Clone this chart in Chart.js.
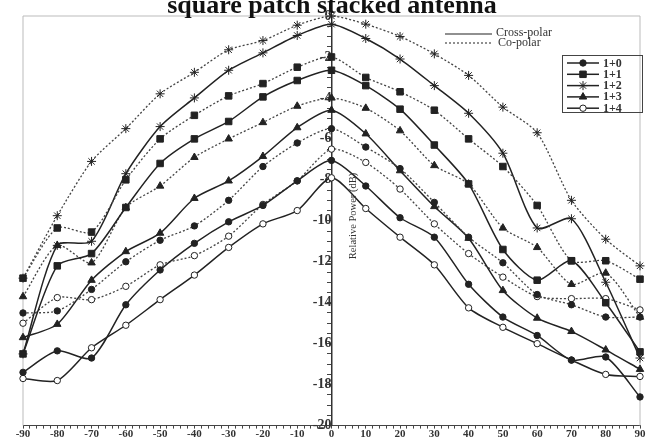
<!DOCTYPE html>
<html lang="en">
<head>
<meta charset="UTF-8">
<title>square patch stacked antenna</title>
<style>
  html, body { margin: 0; padding: 0; background: #fff; }
  #wrap { width: 661px; height: 441px; }
</style>
</head>
<body>
<div id="wrap"><canvas id="chart"></canvas></div>

<script src="https://cdn.jsdelivr.net/npm/chart.js@4/dist/chart.umd.min.js"></script>
<script>
  // angles (deg)
  const angles = [-90, -80, -70, -60, -50, -40, -30, -20, -10, 0, 10, 20, 30, 40, 50, 60, 70, 80, 90]
  const names = ['1+0', '1+1', '1+2', '1+3', '1+4']

  // relative power (dB), solid = cross-polar, dotted = co-polar
  const cross10 = [-17.4, -16.35, -16.7, -14.1, -12.4, -11.1, -10.05, -9.25, -8.05, -7.05, -8.3, -9.85, -10.8, -13.1, -14.7, -15.6, -16.8, -16.65, -18.6]
  const co10 = [-14.5, -14.4, -13.35, -12.0, -10.95, -10.25, -9.0, -7.35, -6.2, -5.5, -6.4, -7.45, -9.1, -10.8, -12.05, -13.6, -14.1, -14.7, -14.7]
  const cross11 = [-16.5, -12.2, -11.6, -9.35, -7.2, -6.0, -5.15, -3.95, -3.15, -2.65, -3.4, -4.55, -6.3, -8.2, -11.4, -12.9, -11.95, -14.0, -16.4]
  const co11 = [-12.8, -10.35, -10.55, -8.0, -6.0, -4.85, -3.9, -3.3, -2.5, -2.0, -3.0, -3.7, -4.6, -6.0, -7.35, -9.25, -11.95, -11.95, -12.85]
  const cross12 = [-16.5, -11.2, -11.0, -7.7, -5.4, -4.0, -2.65, -1.8, -0.95, -0.4, -1.1, -2.1, -3.4, -4.75, -6.7, -10.35, -9.9, -13.0, -16.7]
  const co12 = [-12.8, -9.75, -7.1, -5.5, -3.8, -2.75, -1.65, -1.2, -0.45, 0, -0.4, -1.0, -1.85, -2.9, -4.45, -5.7, -9.0, -10.9, -12.2]
  const cross13 = [-15.7, -15.05, -12.9, -11.5, -10.6, -8.9, -8.05, -6.85, -5.45, -4.6, -5.75, -7.55, -9.3, -10.85, -13.4, -14.75, -15.4, -16.3, -17.25]
  const co13 = [-13.7, -11.2, -12.05, -9.35, -8.3, -6.9, -6.0, -5.2, -4.4, -4.0, -4.5, -5.6, -7.3, -8.2, -10.35, -11.3, -13.1, -12.55, -14.7]
  const cross14 = [-17.7, -17.8, -16.2, -15.1, -13.85, -12.65, -11.3, -10.15, -9.5, -7.9, -9.4, -10.8, -12.15, -14.25, -15.2, -16.0, -16.8, -17.5, -17.6]
  const co14 = [-15.0, -13.75, -13.85, -13.2, -12.15, -11.7, -10.75, -9.2, -8.05, -6.5, -7.15, -8.45, -10.15, -11.6, -12.75, -13.7, -13.8, -13.8, -14.35]

  const crossSeries = [cross10, cross11, cross12, cross13, cross14]
  const coSeries = [co10, co11, co12, co13, co14]

  const ink = '#222'
  // marker per configuration
  const markers = [
    { pointStyle: 'circle', radius: 3.2, fill: ink },
    { pointStyle: 'rect', radius: 4.6, fill: ink },
    { pointStyle: 'star', radius: 4.5, fill: ink },
    { pointStyle: 'triangle', radius: 4.3, fill: ink },
    { pointStyle: 'circle', radius: 3.2, fill: '#fff' },
  ]

  const datasets = []
  names.forEach((name, i) => {
    const m = markers[i]
    const base = {
      pointStyle: m.pointStyle,
      pointRadius: m.radius,
      pointBackgroundColor: m.fill,
      pointBorderColor: ink,
      pointBorderWidth: 1,
      borderColor: ink,
      tension: 0.25,
      clip: false,
    }
    datasets.push(Object.assign({}, base, {
      label: name + ' cross',
      data: angles.map((a, k) => ({ x: a, y: crossSeries[i][k] })),
      borderWidth: 1.5,
    }))
    datasets.push(Object.assign({}, base, {
      label: name + ' co',
      data: angles.map((a, k) => ({ x: a, y: coSeries[i][k] })),
      borderWidth: 1.3,
      borderColor: '#444',
      borderDash: [2, 2],
    }))
  })

  function marker(ctx, i, x, y) {
    const m = markers[i]
    ctx.fillStyle = m.fill
    ctx.strokeStyle = ink
    ctx.lineWidth = 1
    ctx.setLineDash([])
    Chart.helpers.drawPoint(ctx, { pointStyle: m.pointStyle, radius: m.radius, borderWidth: 1, rotation: 0 }, x, y)
  }

  const decor = {
    id: 'decor',
    beforeDatasetsDraw(chart) {
      const { ctx, chartArea: ca } = chart
      ctx.save()
      ctx.strokeStyle = '#bbb'
      ctx.lineWidth = 1
      ctx.beginPath()
      ctx.moveTo(ca.left, ca.bottom)
      ctx.lineTo(ca.left, ca.top)
      ctx.lineTo(ca.right, ca.top)
      ctx.lineTo(ca.right, ca.bottom)
      ctx.stroke()
      ctx.restore()
    },
    afterDraw(chart) {
      const { ctx } = chart
      ctx.save()
      // title (cut at the top as in the scan)
      ctx.fillStyle = '#111'
      ctx.font = 'bold 26px "Liberation Serif"'
      ctx.textAlign = 'center'
      ctx.textBaseline = 'alphabetic'
      ctx.fillText('square patch stacked antenna', 332, 13)

      // axis title
      ctx.save()
      ctx.translate(353, 216)
      ctx.rotate(-Math.PI / 2)
      ctx.font = '10.5px "Liberation Serif"'
      ctx.fillStyle = '#333'
      ctx.textAlign = 'center'
      ctx.textBaseline = 'middle'
      ctx.fillText('Relative Power (dB)', 0, 0)
      ctx.restore()

      // polarisation legend
      ctx.strokeStyle = ink
      ctx.lineWidth = 1.2
      ctx.beginPath(); ctx.moveTo(445, 34); ctx.lineTo(492, 34); ctx.stroke()
      ctx.setLineDash([2, 2])
      ctx.beginPath(); ctx.moveTo(445, 43); ctx.lineTo(492, 43); ctx.stroke()
      ctx.setLineDash([])
      ctx.font = '12px "Liberation Serif"'
      ctx.fillStyle = '#333'
      ctx.textAlign = 'left'
      ctx.textBaseline = 'middle'
      ctx.fillText('Cross-polar', 496, 33)
      ctx.fillText('Co-polar', 498, 43)

      // configuration legend box
      ctx.strokeStyle = '#444'
      ctx.lineWidth = 1
      ctx.strokeRect(562.5, 55.5, 80, 57)
      ctx.font = 'bold 12px "Liberation Serif"'
      names.forEach((name, i) => {
        const y = 63 + i * 11.3
        ctx.strokeStyle = ink
        ctx.lineWidth = 1.5
        ctx.beginPath(); ctx.moveTo(567, y); ctx.lineTo(599, y); ctx.stroke()
        marker(ctx, i, 583, y)
        ctx.fillStyle = '#333'
        ctx.fillText(name, 603, y + 0.5)
      })
      ctx.restore()
    }
  }

  new Chart(document.getElementById('chart'), {
    type: 'line',
    data: { datasets },
    options: {
      responsive: true,
      maintainAspectRatio: false,
      animation: false,
      layout: { padding: { top: 16, left: 23, right: 21, bottom: 0 } },
      plugins: {
        legend: { display: false },
        tooltip: { enabled: false },
      },
      scales: {
        x: {
          type: 'linear',
          min: -90,
          max: 90,
          grid: { drawOnChartArea: false, tickLength: 3, color: '#444' },
          border: { display: true, color: '#444', width: 1 },
          ticks: {
            stepSize: 2,
            autoSkip: false,
            maxRotation: 0,
            padding: 0,
            color: '#333',
            font: { family: '"Liberation Serif"', size: 11, weight: 'bold', lineHeight: 1 },
            callback: v => (v % 10 === 0 ? String(v) : ''),
          },
        },
        y: {
          type: 'linear',
          position: { x: 0 },
          min: -20,
          max: 0,
          grid: { drawOnChartArea: false, tickLength: 4, color: '#444' },
          border: { display: true, color: '#333', width: 1.5 },
          ticks: {
            stepSize: 0.5,
            autoSkip: false,
            padding: 7,
            color: '#333',
            font: { family: '"Liberation Serif"', size: 14, weight: 'bold' },
            callback: v => (v % 2 === 0 ? String(v) : ''),
          },
        },
      },
    },
    plugins: [decor],
  })
</script>
</body>
</html>
